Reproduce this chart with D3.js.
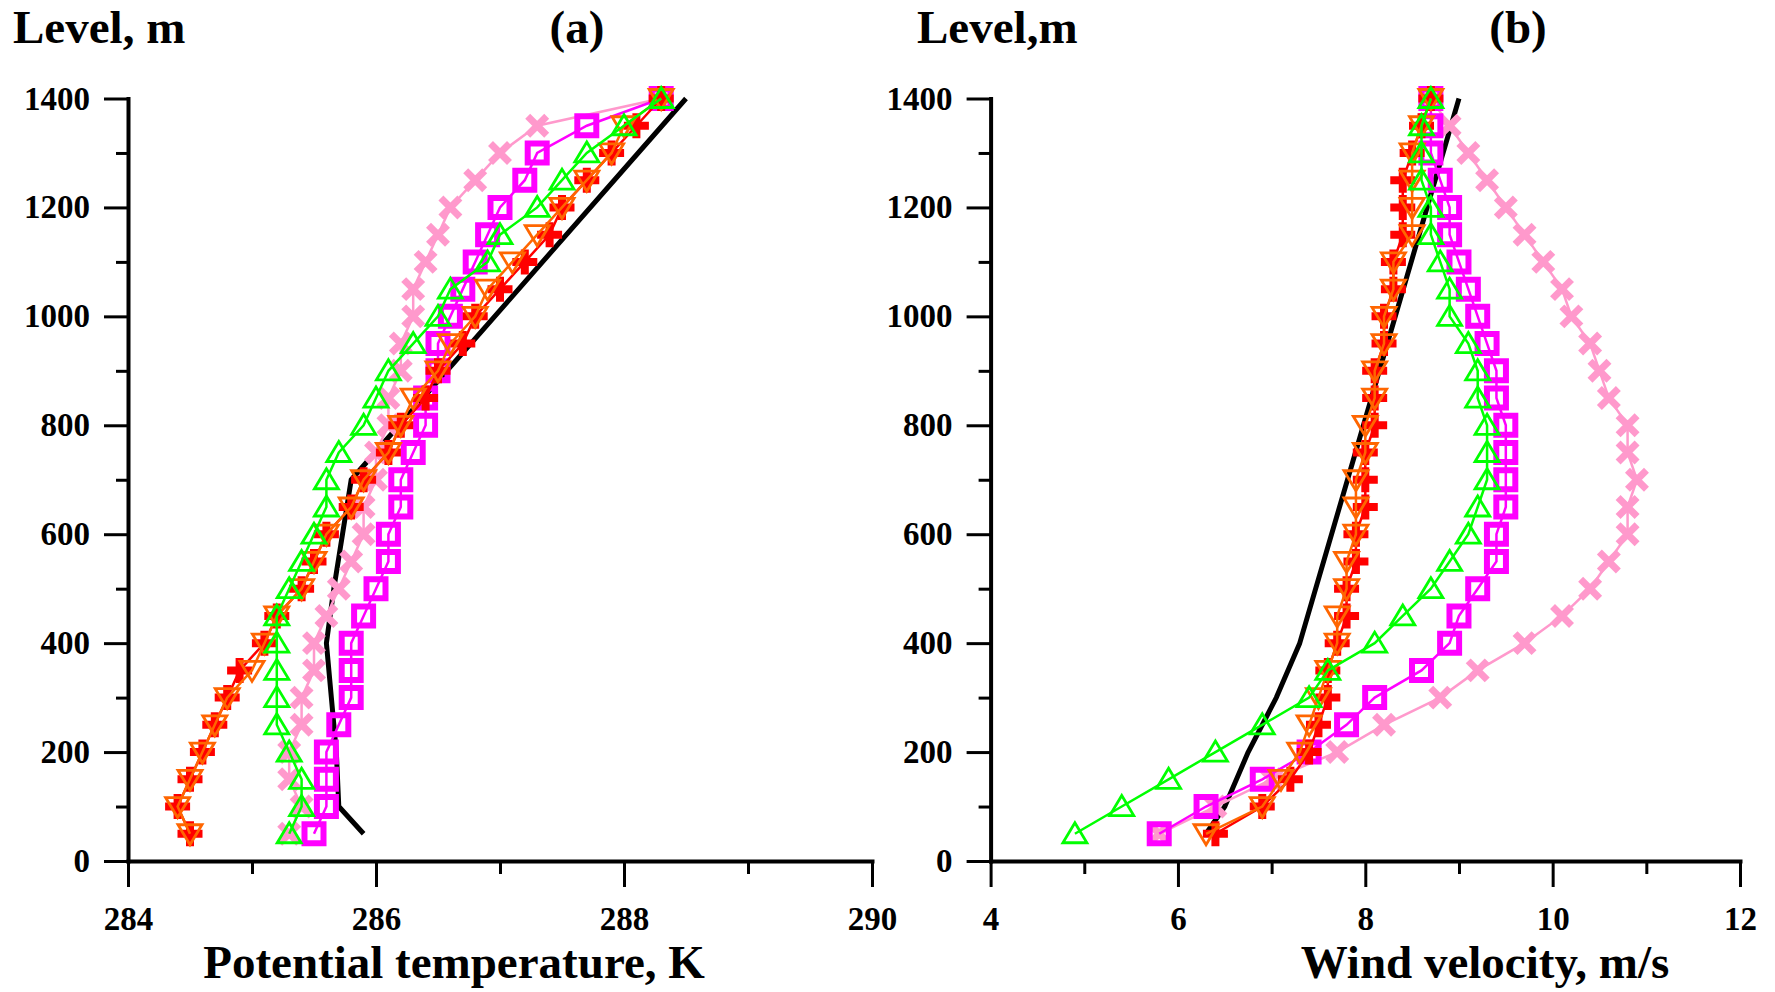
<!DOCTYPE html>
<html>
<head>
<meta charset="utf-8">
<script src="https://cdn.jsdelivr.net/npm/d3@7"></script>
<style>
  html, body { margin: 0; padding: 0; background: #ffffff; }
  svg { display: block; }
  text { font-family: "Liberation Serif", "Times New Roman", serif; font-weight: bold; }
</style>
</head>
<body>
<svg id="chart" width="1775" height="992"></svg>
<script>
// Heights of the profile levels, m
const levels = [50, 100, 150, 200, 250, 300, 350, 400, 450, 500, 550, 600, 650, 700,
                750, 800, 850, 900, 950, 1000, 1050, 1100, 1150, 1200, 1250, 1300, 1350, 1400];

// (a) Potential temperature, K
const thetaCross    = [285.3, 285.4, 285.3, 285.3, 285.4, 285.4, 285.5, 285.5, 285.6, 285.7, 285.8, 285.9, 285.9, 286.0,
                       286.0, 286.1, 286.1, 286.2, 286.2, 286.3, 286.3, 286.4, 286.5, 286.6, 286.8, 287.0, 287.3, 288.3];
const thetaSquare   = [285.5, 285.6, 285.6, 285.6, 285.7, 285.8, 285.8, 285.8, 285.9, 286.0, 286.1, 286.1, 286.2, 286.2,
                       286.3, 286.4, 286.4, 286.5, 286.5, 286.6, 286.7, 286.8, 286.9, 287.0, 287.2, 287.3, 287.7, 288.3];
const thetaPlus     = [284.5, 284.4, 284.5, 284.6, 284.7, 284.8, 284.9, 285.1, 285.2, 285.4, 285.5, 285.6, 285.8, 285.9,
                       286.1, 286.2, 286.4, 286.5, 286.7, 286.8, 287.0, 287.2, 287.4, 287.5, 287.7, 287.9, 288.1, 288.3];
const thetaTriDown  = [284.5, 284.4, 284.5, 284.6, 284.7, 284.8, 285.0, 285.1, 285.2, 285.4, 285.5, 285.6, 285.8, 285.9,
                       286.1, 286.2, 286.3, 286.5, 286.6, 286.8, 286.9, 287.1, 287.3, 287.5, 287.7, 287.9, 288.0, 288.3];
const thetaTriUp    = [285.3, 285.4, 285.4, 285.3, 285.2, 285.2, 285.2, 285.2, 285.2, 285.3, 285.4, 285.5, 285.6, 285.6,
                       285.7, 285.9, 286.0, 286.1, 286.3, 286.5, 286.6, 286.9, 287.0, 287.3, 287.5, 287.7, 288.0, 288.3];
const thetaRefLevels = [50, 100, 200, 300, 400, 500, 600, 700, 1400];
const thetaRef       = [285.9, 285.7, 285.68, 285.64, 285.6, 285.66, 285.73, 285.8, 288.5];

// (b) Wind velocity, m/s
const windCross     = [5.8, 6.4, 7.0, 7.7, 8.2, 8.8, 9.2, 9.7, 10.1, 10.4, 10.6, 10.8, 10.8, 10.9,
                       10.8, 10.8, 10.6, 10.5, 10.4, 10.2, 10.1, 9.9, 9.7, 9.5, 9.3, 9.1, 8.9, 8.7];
const windSquare    = [5.8, 6.3, 6.9, 7.4, 7.8, 8.1, 8.6, 8.9, 9.0, 9.2, 9.4, 9.4, 9.5, 9.5,
                       9.5, 9.5, 9.4, 9.4, 9.3, 9.2, 9.1, 9.0, 8.9, 8.9, 8.8, 8.7, 8.7, 8.7];
const windPlus      = [6.4, 6.9, 7.2, 7.4, 7.5, 7.6, 7.6, 7.7, 7.8, 7.8, 7.9, 7.9, 8.0, 8.0,
                       8.0, 8.1, 8.1, 8.1, 8.2, 8.2, 8.3, 8.3, 8.4, 8.4, 8.4, 8.5, 8.6, 8.7];
const windTriDown   = [6.3, 6.9, 7.1, 7.3, 7.4, 7.5, 7.6, 7.7, 7.7, 7.8, 7.8, 7.9, 7.9, 7.9,
                       8.0, 8.0, 8.1, 8.1, 8.2, 8.2, 8.3, 8.3, 8.5, 8.5, 8.5, 8.5, 8.6, 8.7];
const windTriUp     = [4.9, 5.4, 5.9, 6.4, 6.9, 7.4, 7.6, 8.1, 8.4, 8.7, 8.9, 9.1, 9.2, 9.3,
                       9.3, 9.3, 9.2, 9.2, 9.1, 8.9, 8.9, 8.8, 8.7, 8.7, 8.6, 8.6, 8.6, 8.7];
const windRefLevels = [50, 100, 200, 300, 400, 1400];
const windRef       = [6.3, 6.5, 6.75, 7.05, 7.3, 9.0];

// Axis ticks
const levelMajorTicks = [0, 200, 400, 600, 800, 1000, 1200, 1400];
const levelMinorTicks = [100, 300, 500, 700, 900, 1100, 1300];
const thetaMajorTicks = [284, 286, 288, 290];
const thetaMinorTicks = [285, 287, 289];
const windMajorTicks  = [4, 6, 8, 10, 12];
const windMinorTicks  = [5, 7, 9, 11];

const svg = d3.select("#chart");
svg.append("rect").attr("width", 1775).attr("height", 992).attr("fill", "#ffffff");

const y = d3.scaleLinear().domain([0, 1400]).range([861, 98.5]);
const xA = d3.scaleLinear().domain([284, 290]).range([128, 872]);
const xB = d3.scaleLinear().domain([4, 12]).range([990.6, 1740]);

// Marker shapes, drawn around the point centre
const markerShapes = {
  cross:   { d: "M-9.5,-9.5L9.5,9.5M-9.5,9.5L9.5,-9.5", width: 7 },
  square:  { d: "M-9.5,-9.5H9.5V9.5H-9.5Z", width: 6 },
  plus:    { d: "M-12.5,0H12.5M0,-12.5V12.5", width: 8 },
  triDown: { d: "M0,11L12,-9H-12Z", width: 2.8 },
  triUp:   { d: "M0,-11L12,9H-12Z", width: 2.8 }
};

function drawPanel(x, xMajor, xMinor, series, ref) {
  const g = svg.append("g");

  // left axis: minor then labelled major ticks
  g.append("g")
    .attr("transform", `translate(${x.range()[0]},0)`)
    .call(d3.axisLeft(y).tickValues(levelMinorTicks).tickFormat("").tickSize(12).tickSizeOuter(0))
    .call(a => a.select(".domain").remove());
  g.append("g")
    .attr("transform", `translate(${x.range()[0]},0)`)
    .call(d3.axisLeft(y).tickValues(levelMajorTicks).tickFormat(d3.format("d")).tickSize(24).tickPadding(14).tickSizeOuter(0));

  // bottom axis
  g.append("g")
    .attr("transform", `translate(0,${y(0)})`)
    .call(d3.axisBottom(x).tickValues(xMinor).tickFormat("").tickSize(13).tickSizeOuter(0))
    .call(a => a.select(".domain").remove());
  g.append("g")
    .attr("transform", `translate(0,${y(0)})`)
    .call(d3.axisBottom(x).tickValues(xMajor).tickFormat(d3.format("d")).tickSize(26).tickPadding(20).tickSizeOuter(0));

  g.selectAll(".domain").attr("stroke", "#000").attr("stroke-width", 4).attr("stroke-linecap", "square");
  g.selectAll(".tick line").attr("stroke", "#000").attr("stroke-width", 3);
  g.selectAll(".tick text").attr("fill", "#000")
    .style("font-family", '"Liberation Serif", "Times New Roman", serif')
    .style("font-weight", "bold").style("font-size", "33px");

  // reference profile (solid black line)
  const profileLine = d3.line().x(d => x(d[1])).y(d => y(d[0]));
  g.append("path")
    .datum(ref.levels.map((h, i) => [h, ref.values[i]]))
    .attr("d", profileLine)
    .attr("fill", "none").attr("stroke", "#000").attr("stroke-width", 5)
    .attr("stroke-linejoin", "round");

  // marker series
  series.forEach(s => {
    const pts = levels.map((h, i) => [h, s.values[i]]);
    g.append("path")
      .datum(pts)
      .attr("d", profileLine)
      .attr("fill", "none").attr("stroke", s.color).attr("stroke-width", 2.5);
    const shape = markerShapes[s.marker];
    g.append("g").selectAll("path")
      .data(pts)
      .join("path")
      .attr("transform", d => `translate(${x(d[1])},${y(d[0])})`)
      .attr("d", shape.d)
      .attr("fill", "none")
      .attr("stroke", s.color)
      .attr("stroke-width", shape.width);
  });
}

drawPanel(xA, thetaMajorTicks, thetaMinorTicks, [
  { values: thetaCross,   color: "#ff99cc", marker: "cross" },
  { values: thetaSquare,  color: "#ff00ff", marker: "square" },
  { values: thetaPlus,    color: "#ff0000", marker: "plus" },
  { values: thetaTriDown, color: "#ff6600", marker: "triDown" },
  { values: thetaTriUp,   color: "#00ff00", marker: "triUp" }
], { levels: thetaRefLevels, values: thetaRef });

drawPanel(xB, windMajorTicks, windMinorTicks, [
  { values: windCross,   color: "#ff99cc", marker: "cross" },
  { values: windSquare,  color: "#ff00ff", marker: "square" },
  { values: windPlus,    color: "#ff0000", marker: "plus" },
  { values: windTriDown, color: "#ff6600", marker: "triDown" },
  { values: windTriUp,   color: "#00ff00", marker: "triUp" }
], { levels: windRefLevels, values: windRef });

// Titles and axis captions
const labels = [
  { text: "Level, m", x: 13, y: 43, anchor: "start" },
  { text: "(a)", x: 577, y: 43, anchor: "middle" },
  { text: "Level,m", x: 917, y: 43, anchor: "start" },
  { text: "(b)", x: 1518, y: 43, anchor: "middle" },
  { text: "Potential temperature, K", x: 454, y: 978, anchor: "middle" },
  { text: "Wind velocity, m/s", x: 1485, y: 978, anchor: "middle" }
];
svg.append("g").selectAll("text")
  .data(labels)
  .join("text")
  .attr("x", d => d.x).attr("y", d => d.y)
  .attr("text-anchor", d => d.anchor)
  .attr("font-size", 47)
  .attr("fill", "#000")
  .text(d => d.text);
</script>
</body>
</html>
